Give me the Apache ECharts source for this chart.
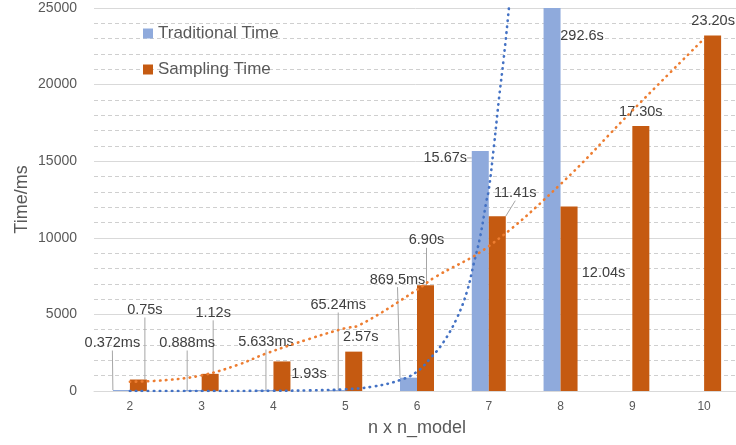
<!DOCTYPE html>
<html>
<head>
<meta charset="utf-8">
<script src="https://cdn.jsdelivr.net/npm/echarts@6/dist/echarts.min.js"></script>
<style>
  html, body { margin: 0; padding: 0; background: #fff; }
  #chart { width: 736px; height: 445px; }
</style>
</head>
<body>
<div id="chart"></div>
<script>
// model size n (n x n)
const categories = ['2', '3', '4', '5', '6', '7', '8', '9', '10'];

// run times in milliseconds
const traditionalTime = [0.372, 0.888, 5.633, 65.24, 869.5, 15670, 292600, null, null];
const samplingTime = [750, 1120, 1930, 2570, 6900, 11410, 12040, 17300, 23200];

// trend curves as [n, ms]
const traditionalTrend = [
  [2, 0], [3, 1], [4, 12], [4.5, 40], [5, 110], [5.39, 290], [5.77, 720], [6, 1260],
  [6.18, 2100], [6.37, 3200], [6.56, 4800], [6.7, 6550], [6.79, 8300], [6.88, 10070],
  [6.97, 12470], [7, 13120], [7.07, 15900], [7.14, 18990], [7.21, 21800], [7.28, 24980], [7.33, 27500]
];
const samplingTrend = [
  [2, 600], [2.5, 710], [3, 1020], [3.5, 1700], [3.9, 2450], [4.5, 3400], [5, 4100], [5.2, 4300],
  [6, 6600], [6.24, 7400], [7, 9450], [8, 13500], [9, 18300], [10, 23000]
];

// value axis ticks
const yMin = 0, yMax = 25000, yInterval = 5000;

// callout placement of each value label, relative to the top centre of its bar
const traditionalLabelOffset = [[-9, -47], [-6, -47], [1, -48], [1.5, -85], [-11, -98], [-35, 7], [30, 28]];
const samplingLabelOffset = [[6.5, -69.5], [3, -61], [27, 12.6], [7, -14.6], [1, -45], [18, -23], [34.5, 66.5], [0, -14], [0.5, -14.6]];
const traditionalCallout = [true, true, true, true, true, true, false];
const samplingCallout = [true, true, false, false, true, true, false, false, false];

const FONT = 'Liberation Sans, Arial, sans-serif';
const gridTop = 8;

function msLabel(v) {
  return v < 1000 ? v + 'ms' : (v / 1000).toPrecision(4) + 's';
}
function secLabel(v) {
  return (v / 1000).toFixed(2) + 's';
}

function barData(values, callout) {
  return values.map(function (v, i) {
    if (v == null) return '-';
    return { value: v, labelLine: { show: !!callout[i] } };
  });
}

function placeLabel(offsets) {
  return function (p) {
    const off = offsets[p.dataIndex] || [0, -14];
    return {
      x: p.rect.x + p.rect.width / 2 + off[0],
      y: Math.max(p.rect.y, gridTop) + off[1],
      align: 'center',
      verticalAlign: 'middle'
    };
  };
}

const labelStyle = { show: true, position: 'top', color: '#404040', fontSize: 14.5, fontFamily: FONT };
const calloutStyle = { show: true, lineStyle: { color: '#A6A6A6', width: 1 } };

const chart = echarts.init(document.getElementById('chart'), null, { renderer: 'canvas' });
chart.setOption({
  animation: false,
  backgroundColor: '#ffffff',
  grid: { left: 94, top: gridTop, width: 646, height: 383, outerBoundsMode: 'none', containLabel: false },
  legend: {
    data: ['Traditional Time', 'Sampling Time'],
    orient: 'vertical',
    left: 143,
    top: 25,
    padding: 0,
    itemWidth: 10,
    itemHeight: 10,
    itemGap: 19,
    icon: 'rect',
    textStyle: { color: '#595959', fontSize: 17, fontFamily: FONT }
  },
  xAxis: [
    {
      type: 'category',
      data: categories,
      name: 'n x n_model',
      nameLocation: 'middle',
      nameGap: 28,
      nameMoveOverlap: false,
      nameTextStyle: { color: '#595959', fontSize: 18, fontFamily: FONT },
      axisLine: { lineStyle: { color: '#D9D9D9', width: 1 } },
      axisTick: { show: false },
      axisLabel: { color: '#595959', fontSize: 12, fontFamily: FONT, margin: 10 }
    },
    {
      type: 'value',
      min: 1.5,
      max: 10.5,
      show: false
    }
  ],
  yAxis: {
    type: 'value',
    min: yMin,
    max: yMax,
    interval: yInterval,
    name: 'Time/ms',
    nameLocation: 'middle',
    nameRotate: 90,
    nameGap: 63,
    nameMoveOverlap: false,
    nameTextStyle: { color: '#595959', fontSize: 18, fontFamily: FONT },
    axisLine: { show: false },
    axisTick: { show: false },
    axisLabel: {
      color: '#595959', fontSize: 14, fontFamily: FONT, margin: 17,
      formatter: function (v) { return String(v); }
    },
    splitLine: { show: true, lineStyle: { color: '#D9D9D9', width: 1 } },
    minorTick: { show: false, splitNumber: 5 },
    minorSplitLine: { show: true, lineStyle: { color: '#CFCFCF', width: 1, type: [4, 3] } }
  },
  series: [
    {
      name: 'Traditional Time',
      type: 'bar',
      data: barData(traditionalTime, traditionalCallout),
      barWidth: 17,
      barGap: '0%',
      barMinHeight: 1,
      clip: true,
      itemStyle: { color: '#8FAADC' },
      label: Object.assign({}, labelStyle, { formatter: function (p) { return msLabel(p.value); } }),
      labelLine: calloutStyle,
      labelLayout: placeLabel(traditionalLabelOffset)
    },
    {
      name: 'Sampling Time',
      type: 'bar',
      data: barData(samplingTime, samplingCallout),
      barWidth: 17,
      barGap: '0%',
      clip: true,
      itemStyle: { color: '#C55A11' },
      label: Object.assign({}, labelStyle, { formatter: function (p) { return secLabel(p.value); } }),
      labelLine: calloutStyle,
      labelLayout: placeLabel(samplingLabelOffset)
    },
    {
      name: 'Traditional trend',
      type: 'line',
      xAxisIndex: 1,
      data: traditionalTrend,
      smooth: 0.4,
      showSymbol: false,
      clip: true,
      silent: true,
      lineStyle: { color: '#4472C4', width: 2.6, type: [0.5, 5.5], cap: 'round' },
      z: 3
    },
    {
      name: 'Sampling trend',
      type: 'line',
      xAxisIndex: 1,
      data: samplingTrend,
      smooth: 0.4,
      showSymbol: false,
      clip: true,
      silent: true,
      lineStyle: { color: '#ED7D31', width: 2.6, type: [0.5, 5.5], cap: 'round' },
      z: 3
    }
  ]
});
</script>
</body>
</html>
